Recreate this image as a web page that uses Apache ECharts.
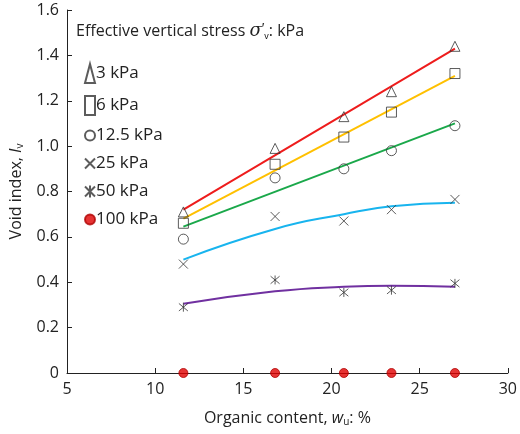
<!DOCTYPE html>
<html><head><meta charset="utf-8">
<script src="https://cdn.jsdelivr.net/npm/echarts@6/dist/echarts.min.js"></script>
<style>html,body{margin:0;padding:0;background:#fff}#main{width:520px;height:434px}</style>
</head><body><div id="main"></div>
<script>
// organic content, %
var organic = [11.6, 16.8, 20.7, 23.4, 27.0];
var stressNames = ['3 kPa', '6 kPa', '12.5 kPa', '25 kPa', '50 kPa', '100 kPa'];
var voidIndex = [
    [0.71, 0.99, 1.13, 1.24, 1.44],
    [0.66, 0.92, 1.04, 1.15, 1.32],
    [0.59, 0.86, 0.90, 0.98, 1.09],
    [0.48, 0.69, 0.67, 0.72, 0.765],
    [0.29, 0.41, 0.355, 0.365, 0.395],
    [0, 0, 0, 0, 0]
];
// trend lines: straight ones by end points, curves by points at each x
var fitX = [
    [11.6, 27.0], [11.6, 27.0], [11.6, 27.0], organic, organic
];
var fitLines = [
    [0.72, 1.43],
    [0.68, 1.31],
    [0.645, 1.10],
    [0.50, 0.635, 0.70, 0.735, 0.75],
    [0.305, 0.36, 0.38, 0.385, 0.38]
];
var fitColors = ['#ee1c1c', '#ffc000', '#1aa84a', '#18b4ee', '#7030a0'];

var symbols = ['triangle', 'rect', 'circle',
    'path://M0,0L10,10M10,0L0,10',
    'path://M0,0L10,10M10,0L0,10M5,-1L5,11',
    'circle'];

var series = [];
for (var i = 0; i < fitLines.length; i++) {
    series.push({
        type: 'line', name: 'fit' + i, smooth: true, symbol: 'none',
        lineStyle: {color: fitColors[i], width: 2},
        data: fitX[i].map(function (x, k) { return [x, fitLines[i][k]]; }),
        z: 2
    });
}
for (var s = 0; s < stressNames.length; s++) {
    var filled = s === 5;
    series.push({
        type: 'scatter', name: stressNames[s], symbol: symbols[s],
        symbolSize: s >= 3 ? 9 : 10,
        itemStyle: {
            color: filled ? '#e00000' : (s >= 3 ? '#333' : 'rgba(255,255,255,0)'),
            borderColor: filled ? '#b00000' : '#333',
            borderWidth: 1
        },
        data: organic.map(function (x, k) { return [x, voidIndex[s][k]]; }),
        clip: false, z: 5
    });
}

var chart = echarts.init(document.getElementById('main'));
chart.setOption({
    animation: false,
    textStyle: {fontFamily: 'Open Sans', color: '#222'},
    grid: {left: 65, right: 6, top: 10, bottom: 61},
    graphic: [{
        type: 'text', left: 76, top: 22,
        style: {
            text: 'Effective vertical stress {s|σ}{p|′}{sub|v}: kPa',
            fontFamily: 'Open Sans', fontSize: 16, fill: '#222',
            rich: {
                s: {fontStyle: 'italic', fontSize: 18, fontFamily: 'DejaVu Serif', fill: '#222'},
                p: {fontSize: 14, fill: '#222', verticalAlign: 'top'},
                sub: {fontSize: 9, fill: '#222', padding: [10, 0, 0, 0]}
            }
        }
    }],
    legend: {
        data: stressNames, orient: 'vertical', left: 79, top: 58,
        itemGap: 11, itemWidth: 10, itemHeight: 19,
        textStyle: {fontSize: 17, color: '#222', padding: [0, 0, 0, -4]},
        selectedMode: false
    },
    xAxis: {
        type: 'value', min: 5, max: 30, interval: 5,
        name: '{n|Organic content, }{i|w}{sub|u}{n|: %}', nameLocation: 'middle', nameGap: 36,
        nameTextStyle: {rich: {
            n: {fontSize: 16, color: '#222'},
            i: {fontSize: 16, fontStyle: 'italic', color: '#222'},
            sub: {fontSize: 10, color: '#222', padding: [8, 0, 0, 0]}
        }},
        axisLine: {lineStyle: {color: '#222', width: 1}},
        axisTick: {inside: true, length: 5, lineStyle: {color: '#222'}},
        axisLabel: {fontSize: 16, color: '#222', margin: 8},
        splitLine: {show: false}
    },
    yAxis: {
        type: 'value', min: 0, max: 1.6, interval: 0.2,
        name: '{n|Void index, }{i|I}{sub|v}', nameLocation: 'middle', nameGap: 42, nameRotate: 90,
        nameTextStyle: {rich: {
            n: {fontSize: 16, color: '#222'},
            i: {fontSize: 16, fontStyle: 'italic', color: '#222'},
            sub: {fontSize: 10, color: '#222', padding: [8, 0, 0, 0]}
        }},
        axisLine: {show: true, lineStyle: {color: '#222', width: 1}},
        axisTick: {show: true, inside: true, length: 5, lineStyle: {color: '#222'}},
        axisLabel: {fontSize: 16, color: '#222', margin: 8,
            formatter: function (v) { return v === 0 ? '0' : v.toFixed(1); }},
        splitLine: {show: false}
    },
    series: series
});
window.addEventListener('resize', function () { chart.resize(); });
</script>
</body></html>
